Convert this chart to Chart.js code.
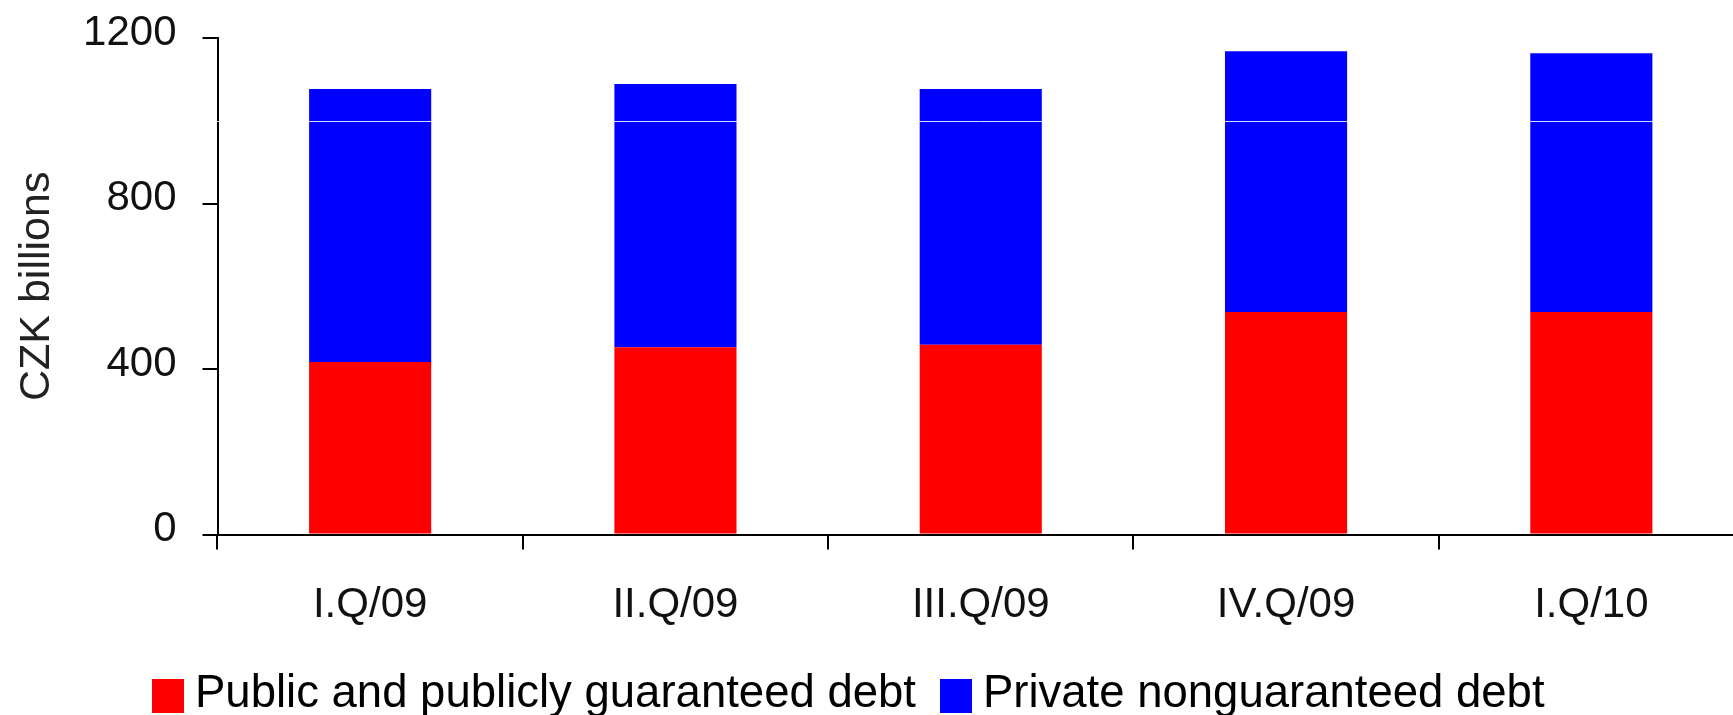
<!DOCTYPE html>
<html>
<head>
<meta charset="utf-8">
<script src="https://cdn.jsdelivr.net/npm/chart.js@4/dist/chart.umd.min.js"></script>
<style>
  html, body { margin: 0; padding: 0; background: #fff; overflow: hidden; }
  #wrap { position: relative; width: 1744px; height: 715px; }
  #legend {
    position: absolute; left: 152px; top: 669px; display: flex;
    font-family: 'Liberation Sans', Arial, sans-serif; font-size: 45.5px;
    line-height: 46px; color: #000; white-space: nowrap;
  }
  .item { display: flex; align-items: flex-start; margin-right: 24px; }
  .box { width: 32px; height: 34px; margin-top: 10px; margin-right: 11px; }
</style>
</head>
<body>
<div id="wrap">
  <canvas id="chartContainer" width="1744" height="715"></canvas>
  <div id="legend"></div>
</div>
<script>
"use strict";

// 1: data
let quarters = ['I.Q/09', 'II.Q/09', 'III.Q/09', 'IV.Q/09', 'I.Q/10'];
let publicDebt = [417, 453, 459, 538, 538];
let privateDebt = [660, 636, 618, 630, 625];
let yTicks = [0, 400, 800, 1200];

const FONT = "'Liberation Sans', Arial, sans-serif";

// white line across the bars at 1000, as in the original
const whiteLine = {
  id: 'whiteLine',
  afterDatasetsDraw(chart) {
    const ctx = chart.ctx;
    const y = Math.round(chart.scales.y.getPixelForValue(1000)) + 0.5;
    ctx.save();
    ctx.strokeStyle = 'rgba(255,255,255,0.85)';
    ctx.lineWidth = 1;
    ctx.beginPath();
    ctx.moveTo(chart.chartArea.left - 2, y);
    ctx.lineTo(chart.chartArea.right, y);
    ctx.stroke();
    ctx.restore();
  }
};

// 2: create the chart
function appendChart() {
  let chartContainer = document.getElementById('chartContainer');
  let chart = new Chart(chartContainer, {
    type: 'bar',
    data: {
      labels: quarters,
      datasets: [{
        data: publicDebt,
        label: 'Public and publicly guaranteed debt',
        backgroundColor: '#ff0000',
        barPercentage: 0.4,
        categoryPercentage: 1.0
      },
      {
        data: privateDebt,
        label: 'Private nonguaranteed debt',
        backgroundColor: '#0000ff',
        barPercentage: 0.4,
        categoryPercentage: 1.0
      }]
    },
    options: {
      responsive: false,
      animation: false,
      devicePixelRatio: 1,
      layout: { padding: { left: 7, top: 38, right: 0, bottom: 53 } },
      plugins: {
        legend: { display: false },
        tooltip: { enabled: false }
      },
      scales: {
        x: {
          stacked: true,
          grid: { drawOnChartArea: false, tickLength: 15, color: '#000', lineWidth: 2, offset: true },
          border: { color: '#000', width: 2 },
          ticks: { font: { size: 42, family: FONT }, color: '#111', padding: 31, maxRotation: 0, autoSkip: false }
        },
        y: {
          stacked: true,
          min: 0,
          max: 1200,
          afterBuildTicks: s => { s.ticks = yTicks.map(v => ({ value: v })); },
          afterFit: s => { s.width = 210.5; s.paddingTop = 0; s.paddingBottom = 0; },
          grid: { drawOnChartArea: false, tickLength: 15, color: '#000', lineWidth: 2 },
          border: { color: '#000', width: 2 },
          ticks: {
            font: { size: 42, family: FONT }, color: '#111', padding: 26, labelOffset: -5,
            callback: v => String(v)
          },
          title: {
            display: true,
            text: 'CZK billions',
            font: { size: 43, family: FONT },
            color: '#222',
            padding: { top: 4, bottom: 4 }
          }
        }
      }
    },
    plugins: [whiteLine]
  });

  // 3: html legend from the chart's own items
  let legend = document.getElementById('legend');
  for (const item of chart.options.plugins.legend.labels.generateLabels(chart)) {
    let el = document.createElement('div');
    el.className = 'item';
    let box = document.createElement('span');
    box.className = 'box';
    box.style.background = item.fillStyle;
    el.appendChild(box);
    el.appendChild(document.createTextNode(item.text));
    legend.appendChild(el);
  }
}

appendChart();
</script>
</body>
</html>
